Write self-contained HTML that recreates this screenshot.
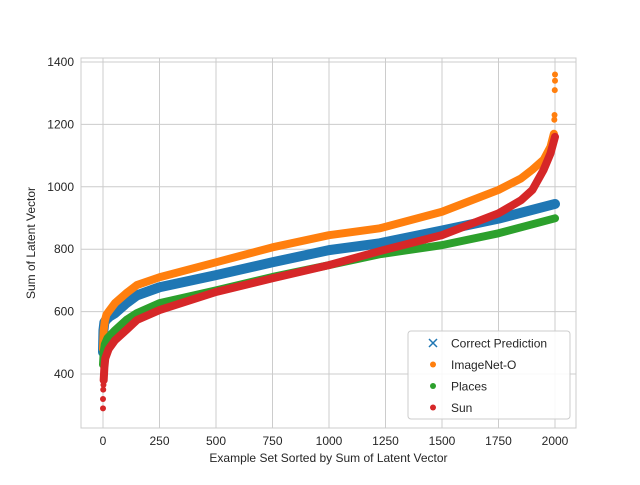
<!DOCTYPE html>
<html><head><meta charset="utf-8"><style>
body{margin:0;background:#fff;font-family:"Liberation Sans",sans-serif}
svg text{font-family:"Liberation Sans","DejaVu Sans",sans-serif;fill:#262626}
</style></head><body>
<svg id="c" width="640" height="480"></svg>
<script>
const xTicks=[0,250,500,750,1000,1250,1500,1750,2000];
const yTicks=[400,600,800,1000,1200,1400];
const blueX=[0,2,6,15,30,53,103,150,250,500,750,1000,1225,1500,1750,2000];
const blueY=[470,540,565,575,585,595,627,652,678,717,758,797,819,860,898,945];
const orangeX=[0,3,8,15,30,53,103,150,250,500,750,1000,1225,1500,1750,1850,1900,1950,1980,1995];
const orangeY=[480,540,570,590,605,627,659,685,710,758,806,845,867,920,990,1027,1055,1087,1128,1170];
const orangeOutX=[1997,1998,1999,2000,2000];
const orangeOutY=[1215,1230,1310,1340,1360];
const greenX=[0,3,8,20,53,103,150,250,500,750,1000,1225,1500,1750,2000];
const greenY=[430,470,495,515,540,573,595,627,668,711,749,784,813,851,899];
const redX=[3,6,10,25,53,103,150,250,500,750,1000,1225,1500,1750,1850,1900,1950,1980,2000];
const redY=[380,420,450,480,508,541,573,605,663,707,749,794,845,915,957,990,1055,1107,1160];
const redOutX=[0,0,1,2];
const redOutY=[290,320,350,365];
const L=81,R=576,T=58,B=428;
const sx=v=>103+v*(555-103)/2000;
const sy=v=>374-(v-400)*(374-62)/1000;
const svg=document.getElementById('c');
const NS='http://www.w3.org/2000/svg';
function mk(t,a,p){const e=document.createElementNS(NS,t);for(const k in a)e.setAttribute(k,a[k]);(p||svg).appendChild(e);return e;}
xTicks.forEach(v=>{const g=mk('line',{x1:sx(v),x2:sx(v),y1:T,y2:B,stroke:'#cccccc','stroke-width':1});

const t=mk('text',{x:sx(v),y:B+17,'font-size':12,'text-anchor':'middle'});t.textContent=v;
});
yTicks.forEach(v=>{const g=mk('line',{x1:L,x2:R,y1:sy(v),y2:sy(v),stroke:'#cccccc','stroke-width':1});

const t=mk('text',{x:L-7,y:sy(v)+4,'font-size':12,'text-anchor':'end'});t.textContent=v;
});
const fr=mk('rect',{x:L,y:T,width:R-L,height:B-T,fill:'none',stroke:'#cccccc'});

function series(xs,ys,col,name,w,ox,oy){
 const g=mk('g',{});
 mk('polyline',{points:xs.map((x,i)=>sx(x)+','+sy(ys[i])).join(' '),fill:'none',stroke:col,'stroke-width':w,'stroke-linejoin':'round','stroke-linecap':'round'},g);
 (ox||[]).forEach((x,i)=>{const m=mk('circle',{cx:sx(x),cy:sy(oy[i]),r:3,fill:col},g);
  });
}
series(blueX,blueY,'#1f77b4','series-correct-prediction',10);
series(orangeX,orangeY,'#ff7f0e','series-imagenet-o',8,orangeOutX,orangeOutY);
series(greenX,greenY,'#2ca02c','series-places',8);
series(redX,redY,'#d62728','series-sun',8,redOutX,redOutY);
const xl=mk('text',{x:(L+R)/2,y:462,'font-size':12,'text-anchor':'middle'});xl.textContent='Example Set Sorted by Sum of Latent Vector';

const yl=mk('text',{x:0,y:0,'font-size':12,'text-anchor':'middle',transform:`translate(35,${(T+B)/2}) rotate(-90)`});yl.textContent='Sum of Latent Vector';

const lg=mk('g',{});
mk('rect',{x:408,y:331,width:162,height:88,rx:3,fill:'#fff','fill-opacity':0.85,stroke:'#cccccc'},lg);
[['Correct Prediction','#1f77b4',1],['ImageNet-O','#ff7f0e',0],['Places','#2ca02c',0],['Sun','#d62728',0]].forEach((e,i)=>{
 const y=343+i*21.5;
 const it=mk('g',{},lg);
 if(e[2])mk('path',{d:`M${429},${y-4}l8,8M${429},${y+4}l8,-8`,stroke:e[1],'stroke-width':1.5},it);
 else mk('circle',{cx:433,cy:y,r:3,fill:e[1]},it);
 const t=mk('text',{x:451,y:y+4.5,'font-size':12},it);t.textContent=e[0];
});
</script>
</body></html>
